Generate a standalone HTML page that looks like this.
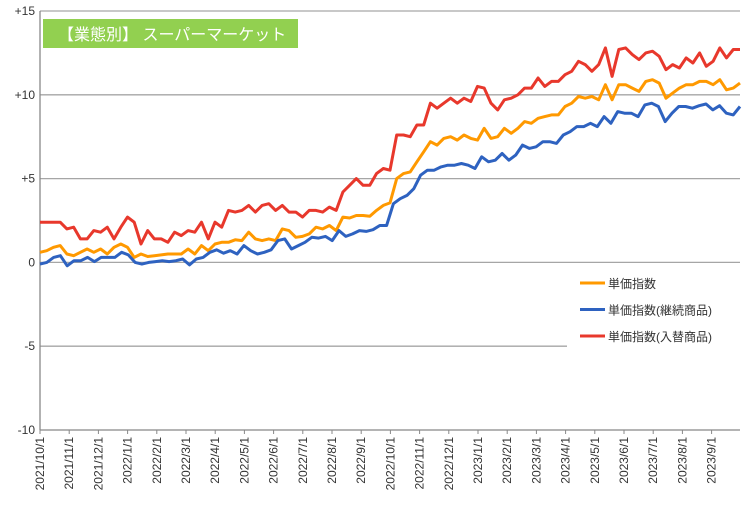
<!DOCTYPE html>
<html><head><meta charset="utf-8"><style>
body{margin:0;background:#fff;}
svg text{font-family:"Liberation Sans","Noto Sans CJK JP",sans-serif;}
</style></head><body>
<svg id="chart" width="742" height="510" xmlns="http://www.w3.org/2000/svg">
<rect x="0" y="0" width="742" height="510" fill="#fff"/>
<g id="grid"></g>
<g id="yaxis"></g>
<g id="xaxis"></g>
<g id="series"></g>
<rect x="567" y="266" width="175" height="86" fill="#fff"/>
<g id="legend"></g>
<rect x="43" y="19" width="255" height="29" fill="#92D050"/>
<text x="58" y="40" font-size="16" fill="#fff">【業態別】 スーパーマーケット</text>
</svg>
<script>
const yTicks=[15,10,5,0,-5,-10];
const yTickLabels=["+15","+10","+5","0","-5","-10"];
const xLabels=["2021/10/1","2021/11/1","2021/12/1","2022/1/1","2022/2/1","2022/3/1","2022/4/1","2022/5/1","2022/6/1","2022/7/1","2022/8/1","2022/9/1","2022/10/1","2022/11/1","2022/12/1","2023/1/1","2023/2/1","2023/3/1","2023/4/1","2023/5/1","2023/6/1","2023/7/1","2023/8/1","2023/9/1"];
const seriesNames=["単価指数","単価指数(継続商品)","単価指数(入替商品)"];
const unitIndex=[0.6,0.7,0.9,1.0,0.5,0.4,0.6,0.8,0.6,0.8,0.5,0.9,1.1,0.9,0.3,0.5,0.35,0.4,0.45,0.5,0.5,0.5,0.8,0.5,1.0,0.7,1.1,1.2,1.2,1.35,1.3,1.8,1.4,1.3,1.4,1.3,2.0,1.9,1.5,1.55,1.7,2.1,2.0,2.2,1.9,2.7,2.65,2.8,2.8,2.75,3.1,3.4,3.55,5.0,5.3,5.4,6.0,6.6,7.2,7.0,7.4,7.5,7.3,7.6,7.4,7.3,8.0,7.4,7.5,8.0,7.7,8.0,8.4,8.3,8.6,8.7,8.8,8.8,9.3,9.5,9.9,9.8,9.9,9.7,10.6,9.7,10.6,10.6,10.4,10.2,10.8,10.9,10.7,9.8,10.1,10.4,10.6,10.6,10.8,10.8,10.6,10.9,10.3,10.4,10.7];
const contIndex=[-0.1,0.0,0.3,0.4,-0.2,0.1,0.1,0.3,0.05,0.3,0.3,0.3,0.6,0.45,0.0,-0.1,0.0,0.05,0.1,0.05,0.1,0.2,-0.15,0.2,0.3,0.6,0.75,0.55,0.7,0.5,1.0,0.7,0.5,0.6,0.75,1.3,1.4,0.8,1.0,1.2,1.5,1.45,1.55,1.3,1.9,1.55,1.7,1.9,1.85,1.95,2.2,2.2,3.5,3.8,4.0,4.4,5.2,5.5,5.5,5.7,5.8,5.8,5.9,5.8,5.6,6.3,6.0,6.1,6.5,6.1,6.4,7.0,6.8,6.9,7.2,7.2,7.1,7.6,7.8,8.1,8.1,8.3,8.1,8.7,8.3,9.0,8.9,8.9,8.7,9.4,9.5,9.3,8.4,8.9,9.3,9.3,9.2,9.35,9.45,9.1,9.35,8.9,8.8,9.3];
const replIndex=[2.4,2.4,2.4,2.4,2.0,2.1,1.4,1.4,1.9,1.8,2.1,1.4,2.1,2.7,2.4,1.1,1.9,1.4,1.4,1.2,1.8,1.6,1.9,1.8,2.4,1.4,2.4,2.1,3.1,3.0,3.1,3.4,3.0,3.4,3.5,3.1,3.4,3.0,3.0,2.7,3.1,3.1,3.0,3.3,3.1,4.2,4.6,5.0,4.6,4.6,5.3,5.6,5.5,7.6,7.6,7.5,8.2,8.2,9.5,9.2,9.5,9.8,9.5,9.8,9.6,10.5,10.4,9.5,9.1,9.7,9.8,10.0,10.4,10.4,11.0,10.5,10.8,10.8,11.2,11.4,12.0,11.8,11.4,11.8,12.8,11.1,12.7,12.8,12.4,12.1,12.5,12.6,12.3,11.5,11.8,11.6,12.2,11.9,12.5,11.7,12.0,12.8,12.2,12.7,12.7];
const colors=["#FF9900","#2E62C0","#E8382C"];
const NS="http://www.w3.org/2000/svg";
const X0=40,X1=740,Y15=11,Ym10=430;
function yScale(v){return Y15+(15-v)*(Ym10-Y15)/25;}
function xIdx(i,n){return X0+i*(X1-X0)/(n-1);}
function xMonth(i){return X0+i*29.2;}
function mk(tag,attrs,parent){const e=document.createElementNS(NS,tag);for(const k in attrs)e.setAttribute(k,attrs[k]);parent.appendChild(e);return e;}
const grid=document.getElementById('grid'),ya=document.getElementById('yaxis'),xa=document.getElementById('xaxis'),sg=document.getElementById('series'),lg=document.getElementById('legend');
yTicks.forEach((v,i)=>{
  const y=yScale(v);
  if(v>-10){const l=mk('line',{x1:X0,x2:X1,y1:y,y2:y,stroke:'#a6a6a6','stroke-width':1.3},grid);
  
  }
  const t=mk('text',{x:35,y:y+4,'text-anchor':'end','font-size':12,fill:'#333'},ya);
  t.textContent=yTickLabels[i];
  
  
});
const ax=mk('line',{x1:X0,x2:X0,y1:Y15,y2:Ym10,stroke:'#888','stroke-width':1.3},ya);


const bx=mk('line',{x1:X0,x2:X1,y1:Ym10,y2:Ym10,stroke:'#888','stroke-width':1.3},xa);


xLabels.forEach((s,i)=>{
  const x=xMonth(i);
  const tk=mk('line',{x1:x,x2:x,y1:Ym10,y2:Ym10+4,stroke:'#888','stroke-width':1},xa);
  
  
  const t=mk('text',{x:0,y:0,'text-anchor':'end','font-size':12,fill:'#333',transform:`translate(${x+4},${Ym10+7}) rotate(-90)`},xa);
  t.textContent=s;
  
  
});
[unitIndex,contIndex,replIndex].forEach((arr,si)=>{
  const pts=arr.map((v,i)=>xIdx(i,arr.length).toFixed(1)+','+yScale(v).toFixed(1)).join(' ');
  const p=mk('polyline',{points:pts,fill:'none',stroke:colors[si],'stroke-width':3,'stroke-linejoin':'round'},sg);
  
  
});
seriesNames.forEach((n,i)=>{
  const y=283+i*26.5;
  const l=mk('line',{x1:580,x2:605,y1:y,y2:y,stroke:colors[i],'stroke-width':3},lg);
  
  
  const t=mk('text',{x:608,y:y+5,'font-size':12,fill:'#333'},lg);
  t.textContent=n;
  
  
});
</script>
</body></html>
